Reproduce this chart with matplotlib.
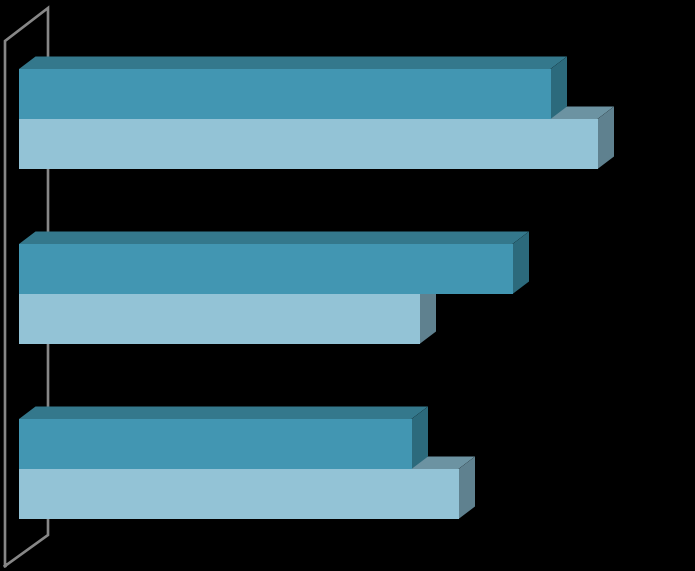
"""Horizontal 3D-look bars on black, two series in three groups."""
import matplotlib
matplotlib.use("Agg")
import matplotlib.pyplot as plt
from matplotlib.patches import Polygon

groups = [0, 1, 2]
# bar lengths
dark_values = [531.5, 493.5, 392.5]
light_values = [578.5, 400.5, 439.5]

DARK = {"front": "#4296b2", "top": "#34788c", "side": "#2c6a7c"}
LIGHT = {"front": "#93c3d6", "top": "#6c93a2", "side": "#5f818f"}

BAR_H = 50
GROUP_STEP = 175
GROUP_MID = 119
LEFT = 19
DEPTH_X, DEPTH_Y = 16.5, 12.5

fig = plt.figure(figsize=(6.95, 5.71), dpi=100, facecolor="black")
ax = fig.add_axes([0, 0, 1, 1])
ax.set_xlim(-LEFT, 695 - LEFT)
ax.set_ylim(571, 0)
ax.axis("off")

# back wall of the chart, only the outline shows
ax.plot([-14, -14, 29, 29, -14], [566, 41, 8, 535, 566],
        color="#878787", lw=1.9, solid_joinstyle="miter", zorder=1)


def draw_bar(length, y_top, colors, z):
    ax.barh(y_top + BAR_H / 2, length, height=BAR_H, left=0,
            color=colors["front"], lw=0, zorder=z + 0.2)
    top = [(0, y_top), (DEPTH_X, y_top - DEPTH_Y),
           (length + DEPTH_X, y_top - DEPTH_Y), (length, y_top)]
    side = [(length, y_top), (length + DEPTH_X, y_top - DEPTH_Y),
            (length + DEPTH_X, y_top + BAR_H - DEPTH_Y), (length, y_top + BAR_H)]
    ax.add_patch(Polygon(top, fc=colors["top"], lw=0, zorder=z))
    ax.add_patch(Polygon(side, fc=colors["side"], lw=0, zorder=z))


for g, d, l in zip(groups, dark_values, light_values):
    mid = GROUP_MID + g * GROUP_STEP
    draw_bar(l, mid, LIGHT, 2)
    draw_bar(d, mid - BAR_H, DARK, 3)

fig.savefig("out.png", dpi=100, facecolor="black")
